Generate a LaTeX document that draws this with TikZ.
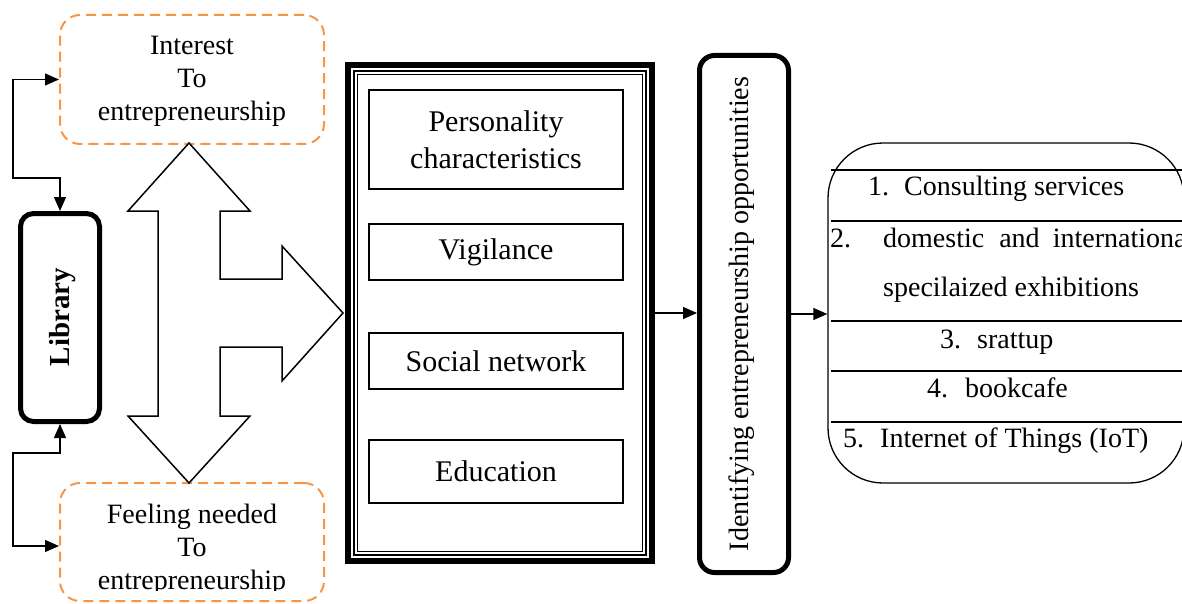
\documentclass[tikz,border=0pt]{standalone}
\usepackage{fontspec}
\setmainfont{Liberation Serif}
\usetikzlibrary{arrows.meta}
\definecolor{dashorange}{RGB}{247,150,70}
\tikzset{
  dashbox/.style={draw=dashorange, line width=2pt, dash pattern=on 10pt off 6pt, rounded corners=20pt},
  thickbox/.style={draw, line width=5pt, rounded corners=13pt},
  innerbox/.style={draw, line width=1.3pt, align=center, inner sep=0pt, font=\fontsize{30}{37}\selectfont},
  lbl/.style={inner sep=0pt, align=center, font=\fontsize{28}{33}\selectfont},
  itemtxt/.style={inner sep=0pt, anchor=base west, font=\fontsize{28}{33}\selectfont},
  conn/.style={line width=1.3pt, -{Triangle[length=14pt,width=12pt]}},
  biconn/.style={line width=1.3pt, {Triangle[length=14pt,width=12pt]}-{Triangle[length=14pt,width=12pt]}},
  bigarrow/.style={draw, line width=1.5pt, fill=white, line join=miter},
}
\begin{document}
\begin{tikzpicture}[x=1pt, y=-1pt]
\useasboundingbox (0,0) rectangle (1182,604);

% dashed boxes
\node[dashbox, minimum width=264pt, minimum height=129pt] (interest) at (192,79.5) {};
\node[lbl] (interesttxt) at (192,81) {Interest\\To\\entrepreneurship};
\node[dashbox, minimum width=264pt, minimum height=118pt] (feel) at (192,542) {};
\begin{scope}
  \clip (0,0) rectangle (1182,590);
  \node[lbl] (feeltxt) at (192,550) {Feeling needed\\To\\entrepreneurship};
\end{scope}

% library
\node[thickbox, minimum width=79pt, minimum height=208pt] (lib) at (60,317.5) {};
\node[inner sep=0pt, rotate=90, font=\fontsize{29}{34}\selectfont\bfseries] (libtxt) at (63,317) {Library};

\draw[biconn] (interest.west) -- (13,79.5) -- (13,178) -- (60,178) -- (lib.north);
\draw[biconn] (lib.south) -- (60,453) -- (13,453) -- (13,546) -- ([yshift=-4pt]feel.west);

% big three-way arrow
\draw[bigarrow] (189,143) -- (250,211) -- (220,211) -- (220,279) -- (282,279) -- (282,246)
  -- (343,313) -- (282,381) -- (282,347) -- (220,347) -- (220,416) -- (250,416)
  -- (189,483) -- (128,416) -- (158,416) -- (158,211) -- (128,211) -- cycle;

% factors box
\node[draw, line width=6pt, minimum width=304pt, minimum height=496pt] (factors) at (500,313) {};
\draw[line width=1.2pt] ([shift={(9,9)}]factors.north west) rectangle ([shift={(-9,-9)}]factors.south east);
\draw[line width=1.2pt] ([shift={(12.5,12.5)}]factors.north west) rectangle ([shift={(-12.5,-12.5)}]factors.south east);

\node[innerbox, minimum width=254pt, minimum height=99pt] (pers) at (496,139.5) {Personality\\characteristics};
\node[innerbox, minimum width=254pt, minimum height=56pt] (vig) at (496,252) {Vigilance};
\node[innerbox, minimum width=254pt, minimum height=56pt] (soc) at (496,361) {Social network};
\node[innerbox, minimum width=254pt, minimum height=63pt] (edu) at (496,471.5) {Education};

% identifying box
\node[thickbox, rounded corners=15pt, minimum width=89pt, minimum height=517pt] (ident) at (744,314) {};
\node[lbl, rotate=90] (identtxt) at (742,314) {Identifying entrepreneurship opportunities};

% opportunities box
\node[draw, line width=1.3pt, rounded corners=55pt, minimum width=356pt, minimum height=340pt] (opps) at (1006,313) {};
\foreach \yy in {170,221,321,371,422}
  \draw[line width=1.3pt] (831,\yy) -- (1182,\yy);

\node[itemtxt] (o1) at (868,196) {1.\hspace{15pt}Consulting services};
\node[itemtxt] (o2a) at (830,247) {2.};
\node[itemtxt] (o2b) at (883,247) {domestic\hspace{15pt}and\hspace{13pt}internationa};
\node[itemtxt] (o2c) at (883,296) {specilaized exhibitions};
\node[itemtxt] (o3) at (940,348) {3.\hspace{16pt}srattup};
\node[itemtxt] (o4) at (927,397) {4.\hspace{17pt}bookcafe};
\node[itemtxt] (o5) at (843,447) {5.\hspace{16pt}Internet of Things (IoT)};

% connectors
\draw[conn] (factors.east) -- (factors.east -| ident.west);
\draw[conn] (ident.east) -- (ident.east -| opps.west);
\end{tikzpicture}
\end{document}
